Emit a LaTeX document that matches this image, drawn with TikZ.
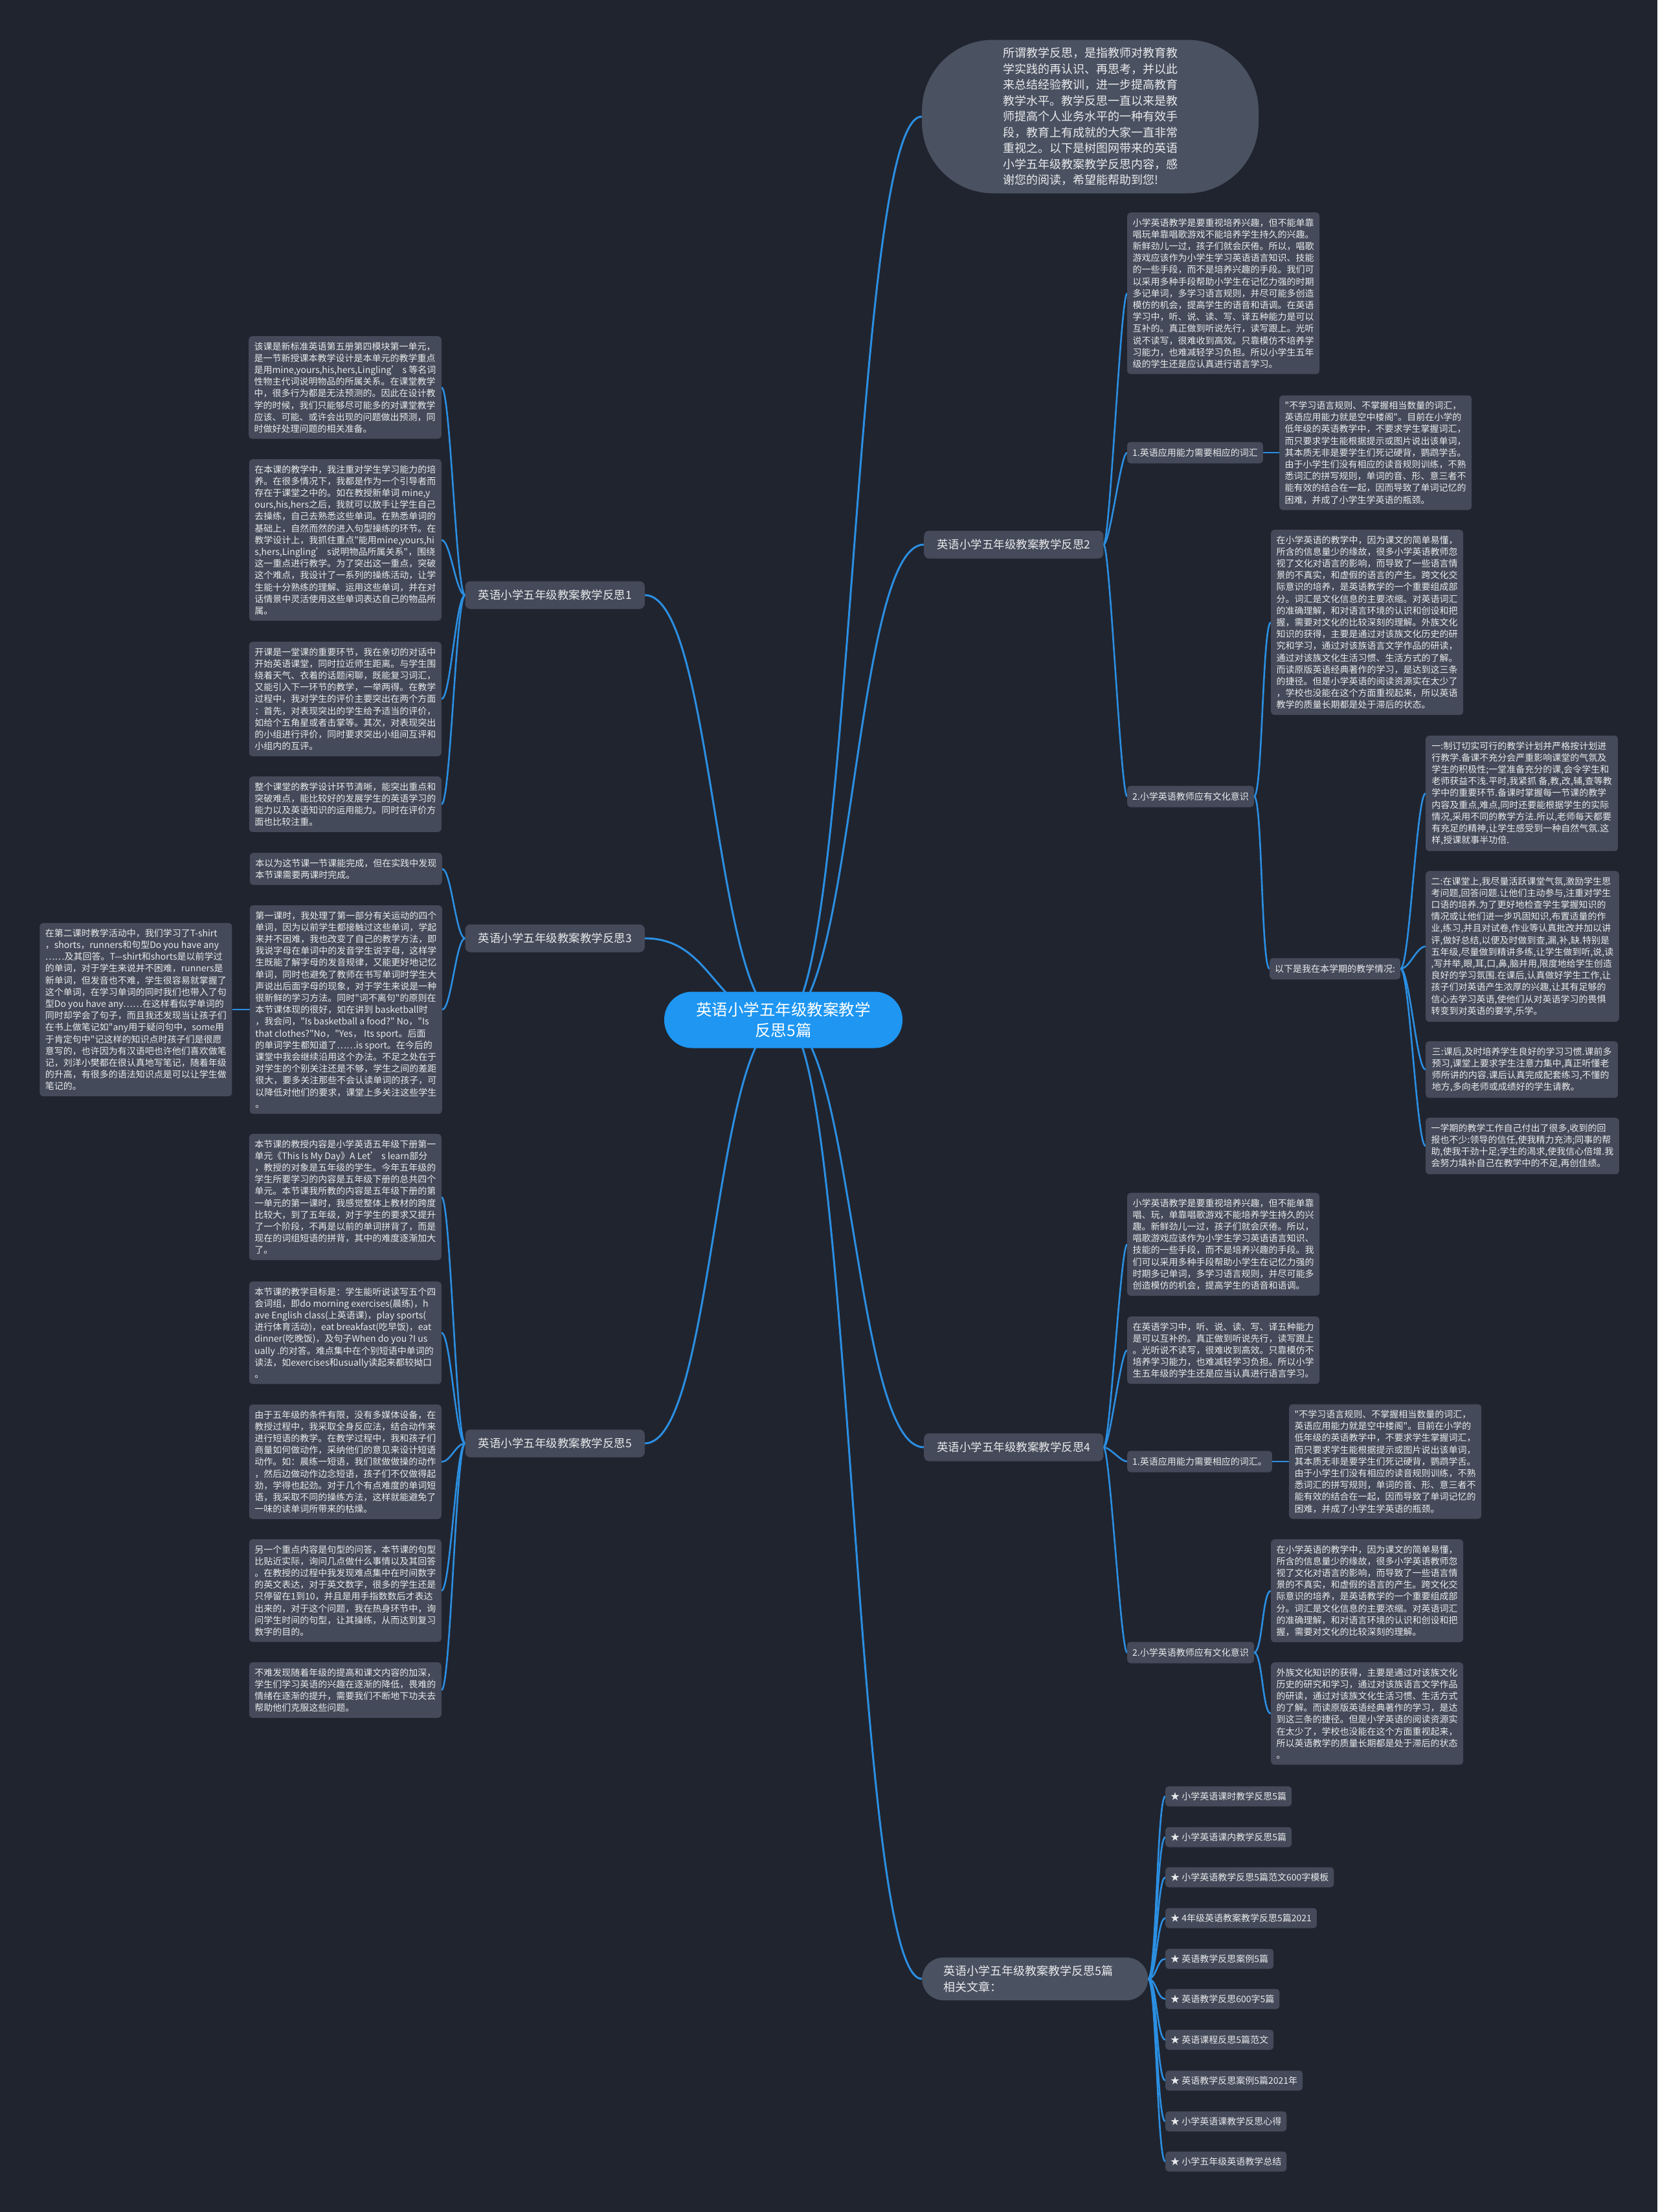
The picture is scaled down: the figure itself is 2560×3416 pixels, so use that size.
\documentclass[tikz,border=0pt]{standalone}
\usepackage{fontspec}
\setmainfont{Noto Sans CJK SC}[Ligatures=TeXOff]
\usetikzlibrary{positioning, calc}
\definecolor{cBG}{HTML}{20242F}
\definecolor{cBOX}{HTML}{444A59}
\definecolor{cPILL}{HTML}{4A5161}
\definecolor{cROOT}{HTML}{1E96F2}
\definecolor{cLINE}{HTML}{2B8FE2}
\definecolor{cTXT}{HTML}{E9EAEC}
\pgfdeclarelayer{back}
\pgfdeclarelayer{edges}
\pgfsetlayers{back,edges,main}
\tikzset{
  rootbox/.style={
    fill=cROOT, text=white,
    rounded corners=43pt,
    minimum width=368pt, minimum height=87pt,
    align=center,
    font=\fontsize{24.5}{32}\selectfont
  },
  introbox/.style={
    fill=cPILL, text=cTXT,
    rounded corners=110pt,
    minimum width=520pt, minimum height=237pt,
    align=left,
    font=\fontsize{18}{24.5}\selectfont
  },
  branchbox/.style={
    fill=cBOX, text=cTXT,
    rounded corners=8pt,
    inner xsep=20pt, inner ysep=0pt,
    minimum height=43pt,
    font=\fontsize{17.5}{20}\selectfont
  },
  relbox/.style={
    fill=cPILL, text=cTXT,
    rounded corners=33pt,
    inner xsep=33pt, minimum height=66pt,
    text width=283pt, align=left,
    font=\fontsize{18}{25}\selectfont
  },
  subbox/.style={
    fill=cBOX, text=cTXT,
    rounded corners=5pt,
    inner xsep=8pt, inner ysep=0pt,
    minimum height=33pt,
    font=\fontsize{14}{17}\selectfont
  },
  leafbox/.style={
    fill=cBOX, text=cTXT,
    rounded corners=5pt,
    inner xsep=8.5pt, inner ysep=9pt,
    minimum width=297pt, align=left,
    font=\fontsize{14}{18.2}\selectfont
  },
  artbox/.style={
    subbox, minimum height=31pt, anchor=west
  },
  link/.style={draw=cLINE, line width=2.6pt},
  rootlink/.style={draw=cLINE, line width=3pt}
}
\newcommand{\vocabtext}{%
"不学习语言规则、不掌握相当数量的词汇，\\
英语应用能力就是空中楼阁"。目前在小学的\\
低年级的英语教学中，不要求学生掌握词汇，\\
而只要求学生能根据提示或图片说出该单词，\\
其本质无非是要学生们死记硬背，鹦鹉学舌。\\
由于小学生们没有相应的读音规则训练，不熟\\
悉词汇的拼写规则，单词的音、形、意三者不\\
能有效的结合在一起，因而导致了单词记忆的\\
困难，并成了小学生学英语的瓶颈。}

\begin{document}
\begin{tikzpicture}[x=1pt, y=-1pt]
  \begin{pgfonlayer}{back}
    \fill[cBG] (0,0) rectangle (2560,3416);
  \end{pgfonlayer}

  % root and first level
  \node[rootbox] (root) at (1210,1575) {英语小学五年级教案教学\\反思5篇};
  \node[introbox] (intro) at (1684,180) {所谓教学反思，是指教师对教育教\\
学实践的再认识、再思考，并以此\\
来总结经验教训，进一步提高教育\\
教学水平。教学反思一直以来是教\\
师提高个人业务水平的一种有效手\\
段，教育上有成就的大家一直非常\\
重视之。以下是树图网带来的英语\\
小学五年级教案教学反思内容，感\\
谢您的阅读，希望能帮助到您!};
  \node[branchbox, anchor=east] (ref1) at (996,919) {英语小学五年级教案教学反思1};
  \node[branchbox, anchor=west] (ref2) at (1427,841) {英语小学五年级教案教学反思2};
  \node[branchbox, anchor=east] (ref3) at (996,1449) {英语小学五年级教案教学反思3};
  \node[branchbox, anchor=west] (ref4) at (1427,2235) {英语小学五年级教案教学反思4};
  \node[branchbox, anchor=east] (ref5) at (996,2229) {英语小学五年级教案教学反思5};
  \node[relbox, anchor=west] (related) at (1424,3056) {英语小学五年级教案教学反思5篇\\相关文章：};

  % reflection 1
  \node[leafbox, anchor=north east] (ref1a) at (682,519) {该课是新标准英语第五册第四模块第一单元，\\
是一节新授课本教学设计是本单元的教学重点\\
是用mine,yours,his,hers,Lingling’ s 等名词\\
性物主代词说明物品的所属关系。在课堂教学\\
中，很多行为都是无法预测的。因此在设计教\\
学的时候，我们只能够尽可能多的对课堂教学\\
应该、可能、或许会出现的问题做出预测，同\\
时做好处理问题的相关准备。};
  \node[leafbox, anchor=north east] (ref1b) at (682,709) {在本课的教学中，我注重对学生学习能力的培\\
养。在很多情况下，我都是作为一个引导者而\\
存在于课堂之中的。如在教授新单词 mine,y\\
ours,his,hers之后，我就可以放手让学生自己\\
去操练，自己去熟悉这些单词。在熟悉单词的\\
基础上，自然而然的进入句型操练的环节。在\\
教学设计上，我抓住重点"能用mine,yours,hi\\
s,hers,Lingling’ s说明物品所属关系"，围绕\\
这一重点进行教学。为了突出这一重点，突破\\
这个难点，我设计了一系列的操练活动，让学\\
生能十分熟练的理解、运用这些单词，并在对\\
话情景中灵活使用这些单词表达自己的物品所\\
属。};
  \node[leafbox, anchor=north east] (ref1c) at (682,991) {开课是一堂课的重要环节，我在亲切的对话中\\
开始英语课堂，同时拉近师生距离。与学生围\\
绕着天气、衣着的话题闲聊，既能复习词汇，\\
又能引入下一环节的教学，一举两得。在教学\\
过程中，我对学生的评价主要突出在两个方面\\
：首先，对表现突出的学生给予适当的评价，\\
如给个五角星或者击掌等。其次，对表现突出\\
的小组进行评价，同时要求突出小组间互评和\\
小组内的互评。};
  \node[leafbox, anchor=north east] (ref1d) at (682,1199) {整个课堂的教学设计环节清晰，能突出重点和\\
突破难点，能比较好的发展学生的英语学习的\\
能力以及英语知识的运用能力。同时在评价方\\
面也比较注重。};

  % reflection 3
  \node[leafbox, anchor=north east] (ref3a) at (683,1317) {本以为这节课一节课能完成，但在实践中发现\\
本节课需要两课时完成。};
  \node[leafbox, anchor=north east] (ref3b) at (683,1398) {第一课时，我处理了第一部分有关运动的四个\\
单词，因为以前学生都接触过这些单词，学起\\
来并不困难，我也改变了自己的教学方法，即\\
我说字母在单词中的发音学生说字母，这样学\\
生既能了解字母的发音规律，又能更好地记忆\\
单词，同时也避免了教师在书写单词时学生大\\
声说出后面字母的现象，对于学生来说是一种\\
很新鲜的学习方法。同时"词不离句"的原则在\\
本节课体现的很好，如在讲到 basketball时\\
，我会问，"Is basketball a food?" No，"Is\\
that clothes?"No，"Yes， Its sport。后面\\
的单词学生都知道了……is sport。在今后的\\
课堂中我会继续沿用这个办法。不足之处在于\\
对学生的个别关注还是不够，学生之间的差距\\
很大，要多关注那些不会认读单词的孩子，可\\
以降低对他们的要求，课堂上多关注这些学生\\
。};
  \node[leafbox, anchor=east] (ref3c) at ([xshift=-27pt]ref3b.west) {在第二课时教学活动中，我们学习了T-shirt\\
，shorts，runners和句型Do you have any\\
……及其回答。T—shirt和shorts是以前学过\\
的单词，对于学生来说并不困难，runners是\\
新单词，但发音也不难，学生很容易就掌握了\\
这个单词，在学习单词的同时我们也带入了句\\
型Do you have any……在这样看似学单词的\\
同时却学会了句子，而且我还发现当让孩子们\\
在书上做笔记如"any用于疑问句中，some用\\
于肯定句中"记这样的知识点时孩子们是很愿\\
意写的，也许因为有汉语吧也许他们喜欢做笔\\
记，刘洋小樊都在很认真地写笔记，随着年级\\
的升高，有很多的语法知识点是可以让学生做\\
笔记的。};

  % reflection 5
  \node[leafbox, anchor=north east] (ref5a) at (682,1751) {本节课的教授内容是小学英语五年级下册第一\\
单元《This Is My Day》A Let’ s learn部分\\
，教授的对象是五年级的学生。今年五年级的\\
学生所要学习的内容是五年级下册的总共四个\\
单元。本节课我所教的内容是五年级下册的第\\
一单元的第一课时，我感觉整体上教材的跨度\\
比较大，到了五年级，对于学生的要求又提升\\
了一个阶段，不再是以前的单词拼背了，而是\\
现在的词组短语的拼背，其中的难度逐渐加大\\
了。};
  \node[leafbox, anchor=north east] (ref5b) at (682,1979) {本节课的教学目标是：学生能听说读写五个四\\
会词组，即do morning exercises(晨练)，h\\
ave English class(上英语课)，play sports(\\
进行体育活动)，eat breakfast(吃早饭)，eat\\
dinner(吃晚饭)，及句子When do you ?I us\\
ually .的对答。难点集中在个别短语中单词的\\
读法，如exercises和usually读起来都较拗口\\
。};
  \node[leafbox, anchor=north east] (ref5c) at (682,2169) {由于五年级的条件有限，没有多媒体设备，在\\
教授过程中，我采取全身反应法，结合动作来\\
进行短语的教学。在教学过程中，我和孩子们\\
商量如何做动作，采纳他们的意见来设计短语\\
动作。如：晨练一短语，我们就做做操的动作\\
，然后边做动作边念短语，孩子们不仅做得起\\
劲，学得也起劲。对于几个有点难度的单词短\\
语，我采取不同的操练方法，这样就能避免了\\
一味的读单词所带来的枯燥。};
  \node[leafbox, anchor=north east] (ref5d) at (682,2377) {另一个重点内容是句型的问答，本节课的句型\\
比贴近实际，询问几点做什么事情以及其回答\\
。在教授的过程中我发现难点集中在时间数字\\
的英文表达，对于英文数字，很多的学生还是\\
只停留在1到10，并且是用手指数数后才表达\\
出来的，对于这个问题，我在热身环节中，询\\
问学生时间的句型，让其操练，从而达到复习\\
数字的目的。};
  \node[leafbox, anchor=north east] (ref5e) at (682,2567) {不难发现随着年级的提高和课文内容的加深，\\
学生们学习英语的兴趣在逐渐的降低，畏难的\\
情绪在逐渐的提升，需要我们不断地下功夫去\\
帮助他们克服这些问题。};

  % reflection 2
  \node[leafbox, anchor=north west] (ref2a) at (1741,328) {小学英语教学是要重视培养兴趣，但不能单靠\\
唱玩单靠唱歌游戏不能培养学生持久的兴趣。\\
新鲜劲儿一过，孩子们就会厌倦。所以，唱歌\\
游戏应该作为小学生学习英语语言知识、技能\\
的一些手段，而不是培养兴趣的手段。我们可\\
以采用多种手段帮助小学生在记忆力强的时期\\
多记单词，多学习语言规则，并尽可能多创造\\
模仿的机会，提高学生的语音和语调。在英语\\
学习中，听、说、读、写、译五种能力是可以\\
互补的。真正做到听说先行，读写跟上。光听\\
说不读写，很难收到高效。只靠模仿不培养学\\
习能力，也难减轻学习负担。所以小学生五年\\
级的学生还是应认真进行语言学习。};
  \node[subbox, anchor=west] (ref2vocab) at (1741,699) {1.英语应用能力需要相应的词汇};
  \node[leafbox, anchor=west] (ref2vocabtx) at (1976,699) {\vocabtext};
  \node[subbox, anchor=west] (ref2culture) at (1741,1230) {2.小学英语教师应有文化意识};
  \node[leafbox, anchor=north west] (ref2culturetx) at (1963,818) {在小学英语的教学中，因为课文的简单易懂，\\
所含的信息量少的缘故，很多小学英语教师忽\\
视了文化对语言的影响，而导致了一些语言情\\
景的不真实，和虚假的语言的产生。跨文化交\\
际意识的培养，是英语教学的一个重要组成部\\
分。词汇是文化信息的主要浓缩。对英语词汇\\
的准确理解，和对语言环境的认识和创设和把\\
握，需要对文化的比较深刻的理解。外族文化\\
知识的获得，主要是通过对该族文化历史的研\\
究和学习，通过对该族语言文学作品的研读，\\
通过对该族文化生活习惯、生活方式的了解。\\
而读原版英语经典著作的学习，是达到这三条\\
的捷径。但是小学英语的阅读资源实在太少了\\
，学校也没能在这个方面重视起来，所以英语\\
教学的质量长期都是处于滞后的状态。};
  \node[subbox, anchor=west] (ref2plan) at (1961,1496) {以下是我在本学期的教学情况:};
  \node[leafbox, anchor=north west] (ref2plana) at (2202,1136) {一:制订切实可行的教学计划并严格按计划进\\
行教学.备课不充分会严重影响课堂的气氛及\\
学生的积极性;一堂准备充分的课,会令学生和\\
老师获益不浅.平时,我紧抓 备,教,改,辅,查等教\\
学中的重要环节.备课时掌握每一节课的教学\\
内容及重点,难点,同时还要能根据学生的实际\\
情况,采用不同的教学方法.所以,老师每天都要\\
有充足的精神,让学生感受到一种自然气氛.这\\
样,授课就事半功倍.};
  \node[leafbox, anchor=north west] (ref2planb) at (2202,1345) {二:在课堂上,我尽量活跃课堂气氛,激励学生思\\
考问题,回答问题.让他们主动参与,注重对学生\\
口语的培养.为了更好地检查学生掌握知识的\\
情况或让他们进一步巩固知识,布置适量的作\\
业,练习,并且对试卷,作业等认真批改并加以讲\\
评,做好总结,以便及时做到查,漏,补,缺.特别是\\
五年级,尽量做到精讲多练,让学生做到听,说,读\\
,写并举,眼,耳,口,鼻,脑并用,限度地给学生创造\\
良好的学习氛围.在课后,认真做好学生工作,让\\
孩子们对英语产生浓厚的兴趣,让其有足够的\\
信心去学习英语,使他们从对英语学习的畏惧\\
转变到对英语的要学,乐学。};
  \node[leafbox, anchor=north west] (ref2planc) at (2202,1608) {三:课后,及时培养学生良好的学习习惯.课前多\\
预习,课堂上要求学生注意力集中,真正听懂老\\
师所讲的内容.课后认真完成配套练习,不懂的\\
地方,多向老师或成绩好的学生请教。};
  \node[leafbox, anchor=north west] (ref2pland) at (2202,1726) {一学期的教学工作自己付出了很多,收到的回\\
报也不少:领导的信任,使我精力充沛;同事的帮\\
助,使我干劲十足;学生的渴求,使我信心倍增.我\\
会努力填补自己在教学中的不足,再创佳绩。};

  % reflection 4
  \node[leafbox, anchor=north west] (ref4a) at (1741,1842) {小学英语教学是要重视培养兴趣，但不能单靠\\
唱、玩，单靠唱歌游戏不能培养学生持久的兴\\
趣。新鲜劲儿一过，孩子们就会厌倦。所以，\\
唱歌游戏应该作为小学生学习英语语言知识、\\
技能的一些手段，而不是培养兴趣的手段。我\\
们可以采用多种手段帮助小学生在记忆力强的\\
时期多记单词，多学习语言规则，并尽可能多\\
创造模仿的机会，提高学生的语音和语调。};
  \node[leafbox, anchor=north west] (ref4b) at (1741,2033) {在英语学习中，听、说、读、写、译五种能力\\
是可以互补的。真正做到听说先行，读写跟上\\
。光听说不读写，很难收到高效。只靠模仿不\\
培养学习能力，也难减轻学习负担。所以小学\\
生五年级的学生还是应当认真进行语言学习。};
  \node[subbox, anchor=west] (ref4vocab) at (1741,2257) {1.英语应用能力需要相应的词汇。};
  \node[leafbox, anchor=west] (ref4vocabtx) at (1991,2257) {\vocabtext};
  \node[subbox, anchor=west] (ref4culture) at (1741,2552) {2.小学英语教师应有文化意识};
  \node[leafbox, anchor=north west] (ref4culturea) at (1963,2377) {在小学英语的教学中，因为课文的简单易懂，\\
所含的信息量少的缘故，很多小学英语教师忽\\
视了文化对语言的影响，而导致了一些语言情\\
景的不真实，和虚假的语言的产生。跨文化交\\
际意识的培养，是英语教学的一个重要组成部\\
分。词汇是文化信息的主要浓缩。对英语词汇\\
的准确理解，和对语言环境的认识和创设和把\\
握，需要对文化的比较深刻的理解。};
  \node[leafbox, anchor=north west] (ref4cultureb) at (1963,2567) {外族文化知识的获得，主要是通过对该族文化\\
历史的研究和学习，通过对该族语言文学作品\\
的研读，通过对该族文化生活习惯、生活方式\\
的了解。而读原版英语经典著作的学习，是达\\
到这三条的捷径。但是小学英语的阅读资源实\\
在太少了，学校也没能在这个方面重视起来，\\
所以英语教学的质量长期都是处于滞后的状态\\
。};

  % related articles
  \node[artbox] (art1) at (1800,2774) {★ 小学英语课时教学反思5篇};
  \node[artbox] (art2) at (1800,2837) {★ 小学英语课内教学反思5篇};
  \node[artbox] (art3) at (1800,2899) {★ 小学英语教学反思5篇范文600字模板};
  \node[artbox] (art4) at (1800,2962) {★ 4年级英语教案教学反思5篇2021};
  \node[artbox] (art5) at (1800,3025) {★ 英语教学反思案例5篇};
  \node[artbox] (art6) at (1800,3087) {★ 英语教学反思600字5篇};
  \node[artbox] (art7) at (1800,3150) {★ 英语课程反思5篇范文};
  \node[artbox] (art8) at (1800,3213) {★ 英语教学反思案例5篇2021年};
  \node[artbox] (art9) at (1800,3276) {★ 小学英语课教学反思心得};
  \node[artbox] (art10) at (1800,3338) {★ 小学五年级英语教学总结};

  \begin{pgfonlayer}{edges}
    % from the root
    \draw[rootlink] (root.center) .. controls +(108,0) and +(-108,0) .. (intro.west);
    \draw[rootlink] (root.center) .. controls +(108,0) and +(-108,0) .. (ref2.west);
    \draw[rootlink] (root.center) .. controls +(108,0) and +(-108,0) .. (ref4.west);
    \draw[rootlink] (root.center) .. controls +(107,0) and +(-107,0) .. (related.west);
    \draw[rootlink] (root.center) .. controls +(-107,0) and +(107,0) .. (ref1.east);
    \draw[rootlink] (root.center) .. controls +(-107,0) and +(107,0) .. (ref3.east);
    \draw[rootlink] (root.center) .. controls +(-107,0) and +(107,0) .. (ref5.east);

    % reflection 1
    \draw[link] (ref1.west) .. controls +(-14,0) and +(14,0) .. (ref1a.east);
    \draw[link] (ref1.west) .. controls +(-14,0) and +(14,0) .. (ref1b.east);
    \draw[link] (ref1.west) .. controls +(-14,0) and +(14,0) .. (ref1c.east);
    \draw[link] (ref1.west) .. controls +(-14,0) and +(14,0) .. (ref1d.east);

    % reflection 3
    \draw[link] (ref3.west) .. controls +(-14,0) and +(14,0) .. (ref3a.east);
    \draw[link] (ref3.west) .. controls +(-14,0) and +(14,0) .. (ref3b.east);
    \draw[link] (ref3b.west) -- (ref3c.east);

    % reflection 5
    \draw[link] (ref5.west) .. controls +(-14,0) and +(14,0) .. (ref5a.east);
    \draw[link] (ref5.west) .. controls +(-14,0) and +(14,0) .. (ref5b.east);
    \draw[link] (ref5.west) .. controls +(-14,0) and +(14,0) .. (ref5c.east);
    \draw[link] (ref5.west) .. controls +(-14,0) and +(14,0) .. (ref5d.east);
    \draw[link] (ref5.west) .. controls +(-14,0) and +(14,0) .. (ref5e.east);

    % reflection 2
    \draw[link] (ref2.east) .. controls +(10,0) and +(-10,0) .. (ref2a.west);
    \draw[link] (ref2.east) .. controls +(10,0) and +(-10,0) .. (ref2vocab.west);
    \draw[link] (ref2.east) .. controls +(10,0) and +(-10,0) .. (ref2culture.west);
    \draw[link] (ref2vocab.east) -- (ref2vocabtx.west);
    \draw[link] (ref2culture.east) .. controls +(13,0) and +(-13,0) .. (ref2culturetx.west);
    \draw[link] (ref2culture.east) .. controls +(13,0) and +(-13,0) .. (ref2plan.west);
    \draw[link] (ref2plan.east) .. controls +(14,0) and +(-14,0) .. (ref2plana.west);
    \draw[link] (ref2plan.east) .. controls +(14,0) and +(-14,0) .. (ref2planb.west);
    \draw[link] (ref2plan.east) .. controls +(14,0) and +(-14,0) .. (ref2planc.west);
    \draw[link] (ref2plan.east) .. controls +(14,0) and +(-14,0) .. (ref2pland.west);

    % reflection 4
    \draw[link] (ref4.east) .. controls +(10,0) and +(-10,0) .. (ref4a.west);
    \draw[link] (ref4.east) .. controls +(10,0) and +(-10,0) .. (ref4b.west);
    \draw[link] (ref4.east) .. controls +(10,0) and +(-10,0) .. (ref4vocab.west);
    \draw[link] (ref4.east) .. controls +(10,0) and +(-10,0) .. (ref4culture.west);
    \draw[link] (ref4vocab.east) -- (ref4vocabtx.west);
    \draw[link] (ref4culture.east) .. controls +(13,0) and +(-13,0) .. (ref4culturea.west);
    \draw[link] (ref4culture.east) .. controls +(13,0) and +(-13,0) .. (ref4cultureb.west);

    % related articles
    \draw[link] (related.east) .. controls +(13,0) and +(-13,0) .. (art1.west);
    \draw[link] (related.east) .. controls +(13,0) and +(-13,0) .. (art2.west);
    \draw[link] (related.east) .. controls +(13,0) and +(-13,0) .. (art3.west);
    \draw[link] (related.east) .. controls +(13,0) and +(-13,0) .. (art4.west);
    \draw[link] (related.east) .. controls +(13,0) and +(-13,0) .. (art5.west);
    \draw[link] (related.east) .. controls +(13,0) and +(-13,0) .. (art6.west);
    \draw[link] (related.east) .. controls +(13,0) and +(-13,0) .. (art7.west);
    \draw[link] (related.east) .. controls +(13,0) and +(-13,0) .. (art8.west);
    \draw[link] (related.east) .. controls +(13,0) and +(-13,0) .. (art9.west);
    \draw[link] (related.east) .. controls +(13,0) and +(-13,0) .. (art10.west);
  \end{pgfonlayer}
\end{tikzpicture}
\end{document}
